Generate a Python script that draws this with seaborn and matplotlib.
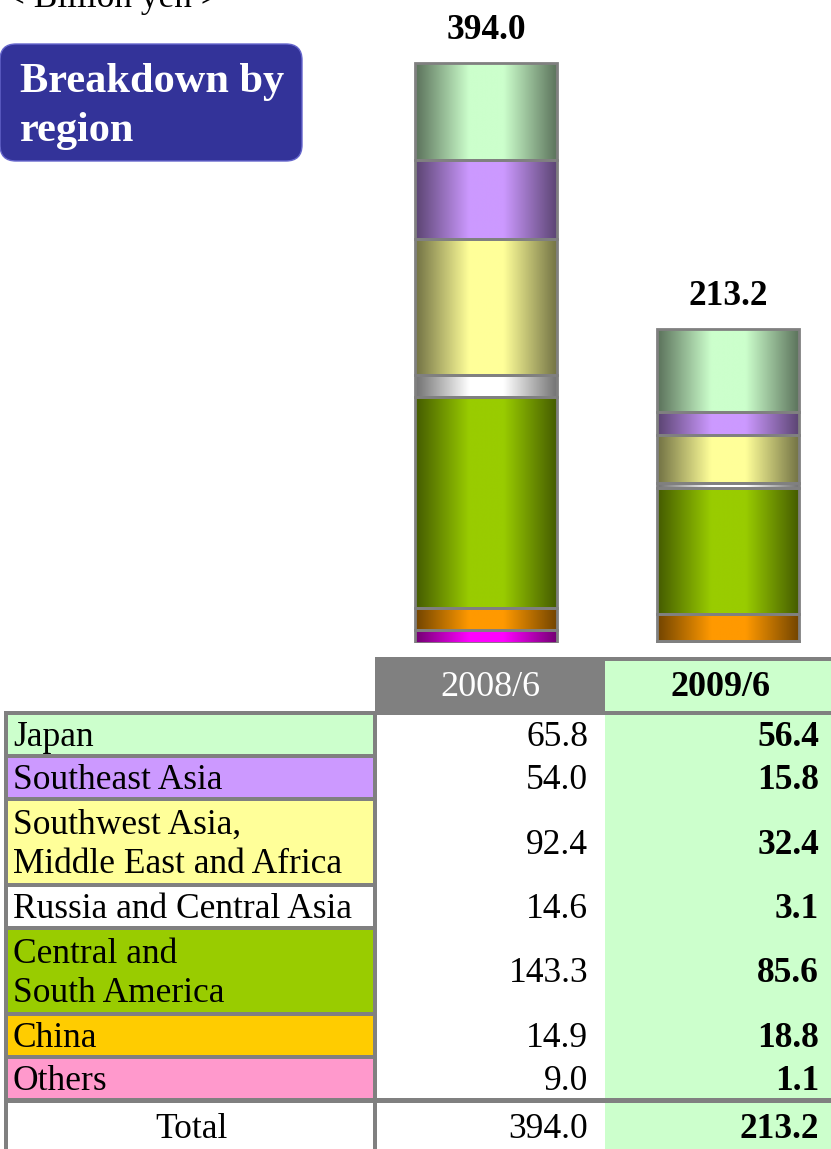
import numpy as np
import seaborn as sns
import matplotlib.pyplot as plt
import matplotlib.colors as mcolors
from matplotlib.patches import Rectangle, FancyBboxPatch

# data
periods = ['2008/6', '2009/6']
regions = ['Japan', 'Southeast Asia', 'Southwest Asia,\nMiddle East and Africa',
           'Russia and Central Asia', 'Central and\nSouth America', 'China', 'Others']
v2008 = [65.8, 54.0, 92.4, 14.6, 143.3, 14.9, 9.0]
v2009 = [56.4, 15.8, 32.4, 3.1, 85.6, 18.8, 1.1]
totals = [394.0, 213.2]
row_units = [1, 1, 2, 1, 2, 1, 1]
bar_colors = ['#CCFFCC', '#CC99FF', '#FFFF99', '#FFFFFF', '#99CC00', '#FF9900', '#FF00FF']
cell_colors = ['#CCFFCC', '#CC99FF', '#FFFF99', '#FFFFFF', '#99CC00', '#FFCC00', '#FF99CC']

W, H = 831, 1149
GRAY = '#808080'
GREEN = '#CCFFCC'
FS = 25.5

sns.set_theme(style='white')
plt.rcParams['font.family'] = ['Liberation Serif', 'DejaVu Serif']
plt.rcParams['text.color'] = 'black'

fig = plt.figure(figsize=(W / 100, H / 100), dpi=100)


def px_axes(x0, y0, x1, y1):
    return fig.add_axes([x0 / W, 1 - y1 / H, (x1 - x0) / W, (y1 - y0) / H])


# stacked bars
ax = px_axes(375, 0, 831, 643)
bottom = np.zeros(2)
segs = []
for i in reversed(range(len(regions))):
    vals = [v2008[i], v2009[i]]
    n0 = len(ax.patches)
    sns.barplot(x=periods, y=vals, bottom=bottom.copy(), width=0.587, color=bar_colors[i],
                saturation=1, edgecolor=GRAY, linewidth=2, ax=ax)
    for p in ax.patches[n0:]:
        segs.append((p, bar_colors[i]))
    bottom += vals

# cylinder-like horizontal shading
t = np.linspace(0, 1, 400)
d = np.minimum(t, 1 - t)
s = np.clip((d - 0.02) / 0.36, 0, 1)
fac = 0.47 + 0.53 * s
for p, c in segs:
    rgb = np.array(mcolors.to_rgb(c))
    img = (fac[:, None] * rgb[None, :])[None, :, :]
    x0, y0 = p.get_x(), p.get_y()
    im = ax.imshow(img, extent=[x0, x0 + p.get_width(), y0, y0 + p.get_height()],
                   aspect='auto', interpolation='bilinear', zorder=1)
    im.set_clip_path(p)
    p.set_facecolor('none')
    p.set_zorder(2)

for i, tot in enumerate(totals):
    ax.text(i, tot + 22, f'{tot:.1f}', ha='center', va='center',
            fontsize=FS, fontweight='bold')

ax.set_xlim(-0.4587, 1.4256)
ax.set_ylim(0, 643 / (580 / 394.0))
ax.axis('off')

# overlay for title and table (pixel coordinates)
ov = fig.add_axes([0, 0, 1, 1])
ov.set_xlim(0, W)
ov.set_ylim(H, 0)
ov.axis('off')

ov.text(5, 7, '< Billion yen >', fontsize=FS, va='baseline', ha='left')
ov.add_patch(FancyBboxPatch((0, 44), 302, 117, boxstyle='round,pad=0,rounding_size=16',
                            facecolor='#333399', edgecolor='#6666CC', linewidth=1))
ov.text(20, 92, 'Breakdown by', fontsize=30.5, fontweight='bold', color='white', va='baseline')
ov.text(20, 141, 'region', fontsize=30.5, fontweight='bold', color='white', va='baseline')

# header
ov.add_patch(Rectangle((375, 657), W - 375, 58, facecolor=GRAY, edgecolor='none'))
ov.add_patch(Rectangle((605, 661), W - 605, 50, facecolor=GREEN, edgecolor='none'))
ov.text(490, 688, periods[0], fontsize=26, color='white', ha='center', va='center')
ov.text(721, 688, periods[1], fontsize=26, fontweight='bold', ha='center', va='center')

# table body
top, unit, lw = 711, 43, 4
body_end = top + unit * sum(row_units)
ov.add_patch(Rectangle((4, top), W - 4, H - top, facecolor=GRAY, edgecolor='none'))
ov.add_patch(Rectangle((377, top + lw), 228, body_end - top - lw, facecolor='white', edgecolor='none'))
ov.add_patch(Rectangle((605, top + lw), W - 605, body_end - top - lw, facecolor=GREEN, edgecolor='none'))

y = top
for i, name in enumerate(regions):
    h = unit * row_units[i]
    ov.add_patch(Rectangle((8, y + lw), 365, h - lw, facecolor=cell_colors[i], edgecolor='none'))
    yc = y + lw + (h - lw) / 2 + 3
    ov.text(13, yc, name, fontsize=FS, ha='left', va='center', linespacing=1.27)
    ov.text(588, yc, f'{v2008[i]:.1f}', fontsize=FS, ha='right', va='center')
    ov.text(819, yc, f'{v2009[i]:.1f}', fontsize=FS, fontweight='bold', ha='right', va='center')
    y += h

# total row
ty = body_end + 5
ov.add_patch(Rectangle((8, ty), 365, H - ty, facecolor='white', edgecolor='none'))
ov.add_patch(Rectangle((377, ty), 228, H - ty, facecolor='white', edgecolor='none'))
ov.add_patch(Rectangle((605, ty), W - 605, H - ty, facecolor=GREEN, edgecolor='none'))
ov.text(192, 1129, 'Total', fontsize=FS, ha='center', va='center')
ov.text(588, 1129, f'{totals[0]:.1f}', fontsize=FS, ha='right', va='center')
ov.text(819, 1129, f'{totals[1]:.1f}', fontsize=FS, fontweight='bold', ha='right', va='center')

fig.savefig('out.png', dpi=100)
